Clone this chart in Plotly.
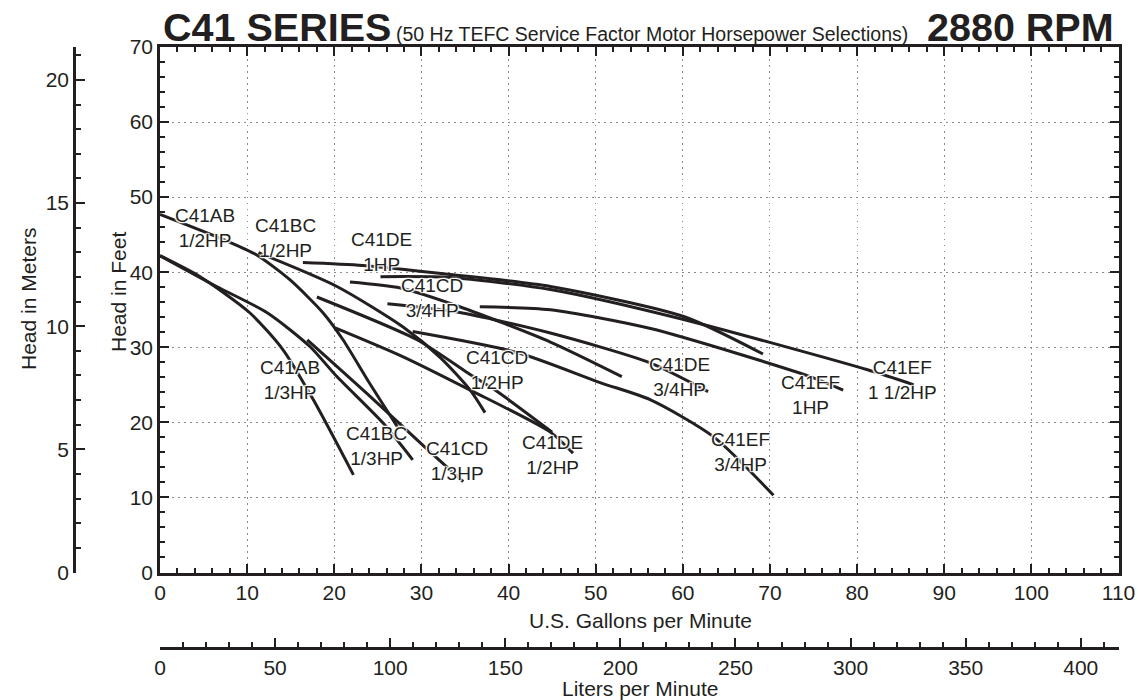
import plotly.graph_objects as go

W, H = 1138, 700

def fx(p):
    return p / W

def fy(p):
    return 1 - p / H

# ---------------- data (U.S. gpm, head in feet) ----------------
ab_half_gpm = [0, 7.8, 11.1, 14.9, 18.7, 21.0, 24.0, 27.3]
ab_half_ft = [47.7, 44.1, 42.3, 39.0, 34.6, 31.0, 25.3, 19.3]

ab_third_gpm = [0, 4.6, 10.3, 14.1, 17.6, 22.2]
ab_third_ft = [42.2, 39.4, 34.6, 29.7, 23.0, 13.0]

bc_third_gpm = [0, 6.5, 12.3, 17.2, 20.3, 25.6, 29.0]
bc_third_ft = [42.2, 38.1, 34.6, 30.1, 26.1, 19.9, 15.0]

bc_half_gpm = [11.3, 20.3, 27.9, 32.2, 35.6, 37.3]
bc_half_ft = [42.6, 38.1, 32.7, 28.6, 24.3, 21.3]

cd_third_gpm = [16.9, 23.7, 30.4, 34.8]
cd_third_ft = [31.0, 23.9, 16.7, 12.1]

cd_half_gpm = [18.0, 29.5, 35.3, 38.7, 45.0]
cd_half_ft = [36.7, 31.0, 26.6, 24.1, 18.7]

cd_34_gpm = [21.8, 27.6, 34.4, 44.8, 53.0]
cd_34_ft = [38.7, 37.9, 35.4, 30.7, 26.1]

de_half_gpm = [20.1, 27.6, 35.6, 44.8, 47.4]
de_half_ft = [32.6, 28.9, 24.3, 18.7, 15.9]

de_34_gpm = [26.1, 34.1, 44.8, 56.3, 62.9]
de_34_ft = [35.8, 34.7, 31.9, 27.9, 24.1]

de_1_gpm = [16.4, 23.3, 33.3, 44.8, 60.1, 69.2]
de_1_ft = [41.3, 40.9, 39.7, 38.1, 34.1, 29.1]

ef_34_gpm = [29.0, 41.0, 50.5, 56.3, 63.5, 70.4]
ef_34_ft = [32.1, 29.3, 25.3, 23.0, 18.1, 10.3]

ef_1_gpm = [36.7, 44.8, 56.3, 74.6, 78.4]
ef_1_ft = [35.4, 35.0, 32.5, 26.1, 24.3]

ef_15_gpm = [25.3, 33.3, 44.8, 60.1, 81.2, 86.5]
ef_15_ft = [39.4, 39.3, 37.7, 33.7, 27.0, 25.0]

curves = [
    (ab_half_gpm, ab_half_ft), (ab_third_gpm, ab_third_ft),
    (bc_third_gpm, bc_third_ft), (bc_half_gpm, bc_half_ft),
    (cd_third_gpm, cd_third_ft), (cd_half_gpm, cd_half_ft),
    (cd_34_gpm, cd_34_ft), (de_half_gpm, de_half_ft),
    (de_34_gpm, de_34_ft), (de_1_gpm, de_1_ft),
    (ef_34_gpm, ef_34_ft), (ef_1_gpm, ef_1_ft), (ef_15_gpm, ef_15_ft),
]

label_text = ["C41AB<br>1/2HP", "C41BC<br>1/2HP", "C41DE<br>1HP", "C41CD<br>3/4HP",
              "C41AB<br>1/3HP", "C41CD<br>1/2HP", "C41DE<br>3/4HP", "C41EF<br>1HP",
              "C41EF<br>1 1/2HP", "C41BC<br>1/3HP", "C41CD<br>1/3HP", "C41DE<br>1/2HP",
              "C41EF<br>3/4HP"]
label_gpm = [5.2, 14.4, 25.4, 31.2, 14.9, 38.7, 59.6, 74.6, 85.2, 24.9, 34.1, 45.0, 66.6]
label_ft = [45.9, 44.6, 42.7, 36.6, 25.6, 27.0, 26.1, 23.7, 25.7, 16.8, 14.9, 15.7, 16.0]

FT_TO_M = 0.3048
GPM_TO_LPM = 3.78541
X_MAX, Y_MAX = 110, 70

FONT = "Liberation Sans, Arial, Helvetica, sans-serif"
INK = "#231f20"

fig = go.Figure()
for gx, gy in curves:
    fig.add_trace(go.Scatter(x=gx, y=gy, mode="lines",
                             line=dict(color=INK, width=3, shape="spline", smoothing=0.7),
                             showlegend=False, hoverinfo="skip"))
# invisible traces to activate the secondary (unit conversion) axes
fig.add_trace(go.Scatter(x=[0], y=[0], xaxis="x2", yaxis="y", mode="markers",
                         marker=dict(opacity=0), showlegend=False, hoverinfo="skip"))
fig.add_trace(go.Scatter(x=[0], y=[0], xaxis="x", yaxis="y2", mode="markers",
                         marker=dict(opacity=0), showlegend=False, hoverinfo="skip"))

xdom = [fx(160), fx(1118.5)]
ydom = [fy(572.5), fy(47)]

tickfont = dict(family=FONT, size=21, color=INK)
minor_x = dict(dtick=2, ticks="inside", ticklen=5, tickwidth=1.5, tickcolor=INK, showgrid=False)
minor_y = dict(dtick=2, ticks="inside", ticklen=5, tickwidth=1.5, tickcolor=INK, showgrid=False)

fig.update_layout(
    width=W, height=H,
    margin=dict(l=0, r=0, t=0, b=0),
    paper_bgcolor="white", plot_bgcolor="white",
    xaxis=dict(domain=xdom, range=[0, X_MAX], dtick=10, tick0=0,
               ticks="inside", ticklen=9, tickwidth=2, tickcolor=INK, minor=minor_x,
               showline=True, linewidth=2.5, linecolor=INK, mirror="ticks",
               showgrid=True, gridcolor="#8a8a8a", griddash="1.5px,4.5px", gridwidth=1.2,
               zeroline=False, tickfont=tickfont, automargin=False, anchor="y"),
    yaxis=dict(domain=ydom, range=[0, Y_MAX], dtick=10, tick0=0,
               ticks="inside", ticklen=9, tickwidth=2, tickcolor=INK, minor=minor_y,
               showline=True, linewidth=2.5, linecolor=INK, mirror="ticks",
               showgrid=True, gridcolor="#8a8a8a", griddash="1.5px,4.5px", gridwidth=1.2,
               zeroline=False, tickfont=tickfont, automargin=False, anchor="x"),
    xaxis2=dict(overlaying="x", anchor="free", position=fy(648), side="bottom",
                range=[0, X_MAX * GPM_TO_LPM], dtick=50, tick0=0,
                ticks="inside", ticklen=9, tickwidth=2, tickcolor=INK,
                minor=dict(dtick=10, ticks="inside", ticklen=5, tickwidth=1.5, tickcolor=INK, showgrid=False),
                showline=True, linewidth=2.5, linecolor=INK, showgrid=False, zeroline=False,
                tickfont=tickfont, automargin=False),
    yaxis2=dict(overlaying="y", anchor="free", position=fx(74), side="left",
                range=[0, Y_MAX * FT_TO_M], dtick=5, tick0=0,
                ticks="inside", ticklen=9, tickwidth=2, tickcolor=INK,
                minor=dict(dtick=1, ticks="inside", ticklen=5, tickwidth=1.5, tickcolor=INK, showgrid=False),
                showline=True, linewidth=2.5, linecolor=INK, showgrid=False, zeroline=False,
                tickfont=tickfont, automargin=False),
)

halo = "1px 1px 1px #fff, -1px -1px 1px #fff, 1px -1px 1px #fff, -1px 1px 1px #fff, 0 0 3px #fff"
for t, gx, gy in zip(label_text, label_gpm, label_ft):
    fig.add_annotation(x=gx, y=gy, xref="x", yref="y", text=t, showarrow=False,
                       font=dict(family=FONT, size=19, color=INK, shadow=halo),
                       align="center", xanchor="center", yanchor="middle")

# axis titles
title_font = dict(family=FONT, size=21, color=INK)
fig.add_annotation(x=fx(640), y=fy(620), xref="paper", yref="paper", text="U.S. Gallons per Minute",
                   showarrow=False, font=title_font, xanchor="center", yanchor="middle")
fig.add_annotation(x=fx(640), y=fy(688), xref="paper", yref="paper", text="Liters per Minute",
                   showarrow=False, font=title_font, xanchor="center", yanchor="middle")
fig.add_annotation(x=fx(118), y=fy(292), xref="paper", yref="paper", text="Head in Feet", textangle=-90,
                   showarrow=False, font=title_font, xanchor="center", yanchor="middle")
fig.add_annotation(x=fx(28), y=fy(299), xref="paper", yref="paper", text="Head in Meters", textangle=-90,
                   showarrow=False, font=title_font, xanchor="center", yanchor="middle")

# titles
fig.add_annotation(x=fx(161), y=fy(51), xref="paper", yref="paper", text="<b>C41 SERIES</b>",
                   showarrow=False, font=dict(family=FONT, size=39.5, color=INK),
                   xanchor="left", yanchor="bottom")
fig.add_annotation(x=fx(394), y=fy(47), xref="paper", yref="paper",
                   text="(50 Hz TEFC Service Factor Motor Horsepower Selections)",
                   showarrow=False, font=dict(family=FONT, size=19.5, color=INK),
                   xanchor="left", yanchor="bottom")
fig.add_annotation(x=fx(1116), y=fy(51), xref="paper", yref="paper", text="<b>2880 RPM</b>",
                   showarrow=False, font=dict(family=FONT, size=39.5, color=INK),
                   xanchor="right", yanchor="bottom")

fig.write_html("out.html", config={"displayModeBar": False},
               post_script="document.body.style.margin='0px';document.body.style.overflow='hidden';")
